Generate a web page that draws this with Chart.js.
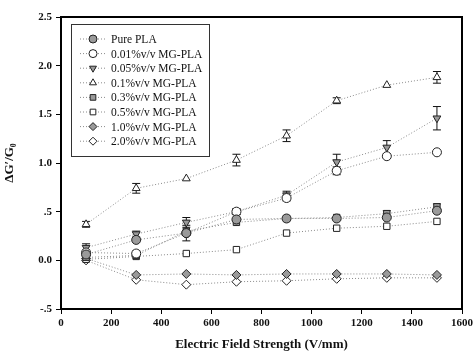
<!DOCTYPE html>
<html>
<head>
<meta charset="utf-8">
<script src="https://cdn.jsdelivr.net/npm/chart.js@4"></script>
<style>
  html, body { margin: 0; padding: 0; background: #fff; }
  #wrap { width: 476px; height: 356px; }
</style>
</head>
<body>
<div id="wrap"><canvas id="chart1" width="476" height="356"></canvas></div>
<script>
// electric field strength (V/mm)
const fields = [100, 300, 500, 700, 900, 1100, 1300, 1500];

const labels = ['Pure PLA', '0.01%v/v MG-PLA', '0.05%v/v MG-PLA', '0.1%v/v MG-PLA',
                '0.3%v/v MG-PLA', '0.5%v/v MG-PLA', '1.0%v/v MG-PLA', '2.0%v/v MG-PLA'];

const purePLA = [0.06, 0.21, 0.28, 0.42, 0.43, 0.43, 0.44, 0.51];
const mg001   = [0.08, 0.07, 0.28, 0.50, 0.64, 0.92, 1.07, 1.11];
const mg005   = [0.13, 0.27, 0.39, 0.50, 0.67, 1.01, 1.16, 1.46];
const mg01    = [0.37, 0.74, 0.84, 1.03, 1.28, 1.64, 1.80, 1.88];
const mg03    = [0.03, 0.05, 0.30, 0.39, 0.43, 0.44, 0.48, 0.55];
const mg05    = [0.01, 0.04, 0.07, 0.11, 0.28, 0.33, 0.35, 0.40];
const mg10    = [0.02, -0.15, -0.14, -0.15, -0.14, -0.14, -0.14, -0.15];
const mg20    = [0.00, -0.20, -0.25, -0.22, -0.21, -0.19, -0.18, -0.18];

// error bar half-heights
const errPure = [0.02, 0.02, 0.02, 0.02, 0.02, 0.02, 0.02, 0.02];
const err001  = [0.03, 0.03, 0.08, 0.03, 0.03, 0.04, 0.02, 0.02];
const err005  = [0.04, 0.03, 0.05, 0.03, 0.04, 0.08, 0.07, 0.12];
const err01   = [0.03, 0.05, 0.02, 0.06, 0.06, 0.03, 0.02, 0.06];
const err03   = [0.02, 0.02, 0.02, 0.02, 0.02, 0.02, 0.03, 0.03];
const err05   = [0.02, 0.02, 0.02, 0.02, 0.02, 0.02, 0.02, 0.02];
const err10   = [0.02, 0.02, 0.02, 0.02, 0.02, 0.02, 0.02, 0.02];
const err20   = [0.02, 0.02, 0.02, 0.02, 0.02, 0.02, 0.02, 0.02];

const yTicks = [-0.5, 0, 0.5, 1.0, 1.5, 2.0, 2.5];
const yTickText = ['-.5', '0.0', '.5', '1.0', '1.5', '2.0', '2.5'];

const GREY = '#9a9a9a';
const series = [
  { y: purePLA, e: errPure, style: 'circle',   rot: 0,   fill: GREY },
  { y: mg001,   e: err001,  style: 'circle',   rot: 0,   fill: '#fff' },
  { y: mg005,   e: err005,  style: 'triangle', rot: 180, fill: GREY },
  { y: mg01,    e: err01,   style: 'triangle', rot: 0,   fill: '#fff' },
  { y: mg03,    e: err03,   style: 'rect',     rot: 0,   fill: GREY },
  { y: mg05,    e: err05,   style: 'rect',     rot: 0,   fill: '#fff' },
  { y: mg10,    e: err10,   style: 'rectRot',  rot: 0,   fill: GREY },
  { y: mg20,    e: err20,   style: 'rectRot',  rot: 0,   fill: '#fff' }
];

const datasets = series.map((s, i) => ({
  label: labels[i],
  data: fields.map((x, j) => ({ x: x, y: s.y[j] })),
  errors: s.e,
  showLine: true,
  borderColor: '#8a8a8a',
  borderWidth: 1,
  borderDash: [1, 2],
  pointStyle: s.style,
  pointRotation: s.rot,
  pointRadius: 4.5,
  pointBackgroundColor: s.fill,
  pointBorderColor: '#222',
  pointBorderWidth: 1
}));

const serif = "'Liberation Serif', 'DejaVu Serif', serif";

// error bars through the scales
const errorBars = {
  id: 'errorBars',
  beforeDatasetsDraw(chart) {
    const ctx = chart.ctx, xs = chart.scales.x, ys = chart.scales.y;
    ctx.save();
    ctx.strokeStyle = '#111';
    ctx.lineWidth = 1;
    chart.data.datasets.forEach(ds => {
      ds.data.forEach((p, j) => {
        const e = ds.errors[j];
        if (e < 0.025) return;
        const px = xs.getPixelForValue(p.x);
        const top = ys.getPixelForValue(p.y + e);
        const bot = ys.getPixelForValue(p.y - e);
        ctx.beginPath();
        ctx.moveTo(px, top); ctx.lineTo(px, bot);
        ctx.moveTo(px - 4, top); ctx.lineTo(px + 4, top);
        ctx.moveTo(px - 4, bot); ctx.lineTo(px + 4, bot);
        ctx.stroke();
      });
    });
    ctx.restore();
  }
};

// frame and boxed legend inside the plot
const frameLegend = {
  id: 'frameLegend',
  afterDraw(chart) {
    const ctx = chart.ctx, a = chart.chartArea;
    ctx.save();
    ctx.strokeStyle = '#000';
    ctx.lineWidth = 2;
    ctx.strokeRect(a.left, a.top, a.right - a.left, a.bottom - a.top);

    const bx = a.left + 10, by = a.top + 7, bw = 138, bh = 132;
    ctx.lineWidth = 1;
    ctx.fillStyle = '#fff';
    ctx.fillRect(bx, by, bw, bh);
    ctx.strokeStyle = '#333';
    ctx.strokeRect(bx + 0.5, by + 0.5, bw, bh);

    ctx.font = '11.5px ' + serif;
    ctx.textBaseline = 'middle';
    chart.data.datasets.forEach((ds, i) => {
      const y = by + 15 + i * 14.6;
      ctx.strokeStyle = ds.borderColor;
      ctx.setLineDash([1, 2]);
      ctx.beginPath();
      ctx.moveTo(bx + 9, y); ctx.lineTo(bx + 36, y);
      ctx.stroke();
      ctx.setLineDash([]);
      ctx.fillStyle = ds.pointBackgroundColor;
      ctx.strokeStyle = ds.pointBorderColor;
      Chart.helpers.drawPoint(ctx, {
        pointStyle: ds.pointStyle, rotation: ds.pointRotation,
        radius: 4, borderWidth: 1
      }, bx + 22, y);
      ctx.fillStyle = '#111';
      ctx.fillText(ds.label, bx + 40, y + 1);
    });
    ctx.restore();
  }
};

new Chart(document.getElementById('chart1'), {
  type: 'scatter',
  data: { datasets: datasets },
  plugins: [errorBars, frameLegend],
  options: {
    responsive: false,
    animation: false,
    layout: { padding: { left: 0, top: 17, right: 10, bottom: 0 } },
    plugins: { legend: { display: false }, tooltip: { enabled: false } },
    scales: {
      x: {
        type: 'linear', min: 0, max: 1600,
        afterFit: s => { s.height = 47; },
        ticks: { stepSize: 200, color: '#111', padding: 3,
                 font: { family: serif, size: 11, weight: 'bold' },
                 callback: v => String(v) },
        grid: { drawOnChartArea: false, tickLength: 5, color: '#000' },
        border: { display: true, color: '#000', width: 2 },
        title: { display: true, text: 'Electric Field Strength (V/mm)', color: '#111',
                 font: { family: serif, size: 13, weight: 'bold' },
                 padding: { top: 0, bottom: 4 } }
      },
      y: {
        type: 'linear', min: -0.5, max: 2.5,
        afterFit: s => { s.width = 61; },
        afterBuildTicks: s => { s.ticks = yTicks.map(v => ({ value: v })); },
        ticks: { color: '#111', padding: 4,
                 font: { family: serif, size: 11, weight: 'bold' },
                 callback: v => yTickText[yTicks.indexOf(v)] },
        grid: { drawOnChartArea: false, tickLength: 5, color: '#000' },
        border: { display: true, color: '#000', width: 2 },
        title: { display: true, text: 'ΔG\u2032/G\u2080', color: '#111',
                 font: { family: serif, size: 13, weight: 'bold' },
                 padding: { top: 2, bottom: 0 } }
      }
    }
  }
});
</script>
</body>
</html>
